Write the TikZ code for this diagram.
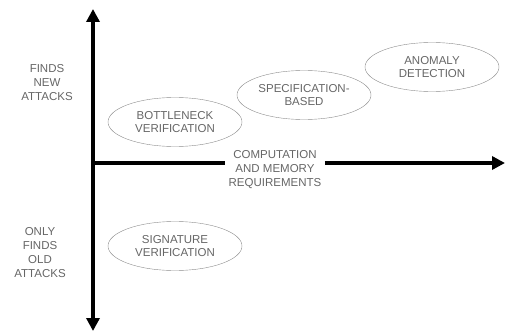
\documentclass[tikz,border=0pt]{standalone}
\usepackage{fontspec}
\setmainfont{Liberation Sans}
\usetikzlibrary{shapes.geometric}
\usetikzlibrary{arrows.meta}
\usetikzlibrary{positioning}

\begin{document}
\begin{tikzpicture}[x=1pt, y=-1pt,
    approach/.style={ellipse, draw=black!45, thin, minimum width=134pt, minimum height=49pt, inner sep=0pt, align=center, text=black!60, font=\fontsize{11.5}{13}\selectfont},
    axislabel/.style={align=center, text=black!60, font=\fontsize{11.5}{14}\selectfont},
    axis/.style={line width=3.5pt, -{Triangle[length=13pt, width=13pt]}}]
    \useasboundingbox (0,0) rectangle (505,334);

    \coordinate (origin) at (93,163);
    \coordinate (topTip) at (93,9);
    \coordinate (bottomTip) at (93,331);
    \coordinate (rightTip) at (505,163);

    \node [axislabel] (findsNew) at (47,83) {FINDS\\NEW\\ATTACKS};
    \node [axislabel] (findsOld) at (40,253) {ONLY\\FINDS\\OLD\\ATTACKS};
    \node [axislabel] (computation) at (275,170) {COMPUTATION\\AND MEMORY\\REQUIREMENTS};

    \node [approach] (bottleneck) at (175,122) {BOTTLENECK\\VERIFICATION};
    \node [approach] (specification) at (304,95) {SPECIFICATION-\\BASED};
    \node [approach] (anomaly) at (432,67) {ANOMALY\\DETECTION};
    \node [approach] (signature) at (175,246) {SIGNATURE\\VERIFICATION};

    \draw [axis] (origin) -- (topTip);
    \draw [axis] (origin) -- (bottomTip);
    \draw [line width=3.5pt] (origin) -- (origin -| computation.west);
    \draw [axis] (origin -| computation.east) -- (rightTip);
\end{tikzpicture}
\end{document}
